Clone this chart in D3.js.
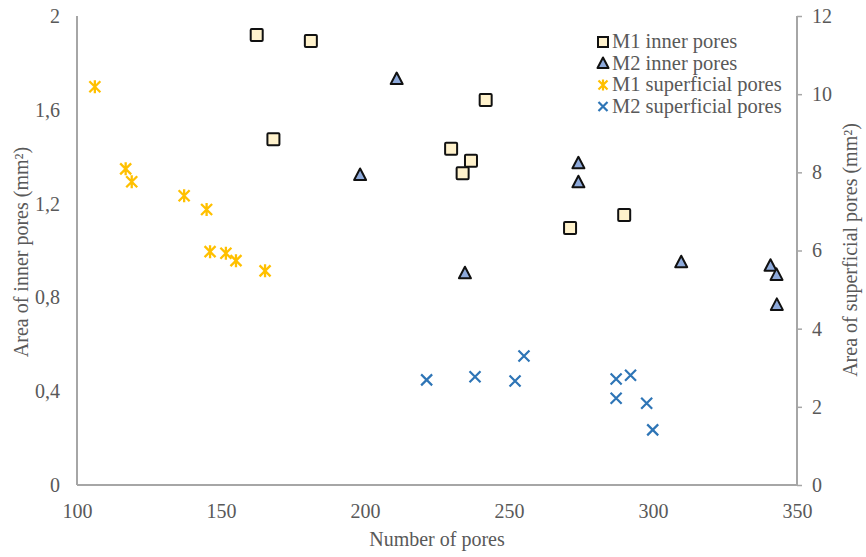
<!DOCTYPE html>
<html><head><meta charset="utf-8">
<script src="https://cdn.jsdelivr.net/npm/d3@7"></script>
<style>body{margin:0;background:#fff}svg{display:block}text{font-family:"Liberation Serif","Times New Roman",serif;fill:#595959}</style>
</head><body><svg id="c" width="866" height="557"></svg>
<script>
const m1InnerX = [162.4, 181.2, 168.2, 241.9, 229.9, 236.8, 233.9, 271.2, 290.0];
const m1InnerY = [1.919, 1.893, 1.474, 1.642, 1.434, 1.383, 1.329, 1.096, 1.151];
const m2InnerX = [211.0, 198.3, 274.1, 274.1, 234.7, 309.8, 340.8, 342.9, 343.0];
const m2InnerY = [1.731, 1.322, 1.372, 1.291, 0.903, 0.950, 0.935, 0.896, 0.768];
const m1SupX = [106.2, 116.9, 119.0, 137.2, 145.0, 146.2, 151.7, 155.2, 165.3];
const m1SupY = [10.19, 8.09, 7.76, 7.40, 7.05, 5.97, 5.93, 5.74, 5.48];
const m2SupX = [221.4, 238.2, 252.1, 255.2, 287.2, 292.2, 287.2, 297.8, 299.9];
const m2SupY = [2.69, 2.77, 2.66, 3.30, 2.71, 2.81, 2.22, 2.09, 1.41];
const xTicks = [100, 150, 200, 250, 300, 350];
const yLeftTicks = [0, 0.4, 0.8, 1.2, 1.6, 2];
const yRightTicks = [0, 2, 4, 6, 8, 10, 12];
const seriesNames = ["M1 inner pores", "M2 inner pores", "M1 superficial pores", "M2 superficial pores"];

const FONT = '"Liberation Serif","Times New Roman",serif';
const svg = d3.select("#c");
const L = 77, R = 797, T = 16, B = 485;
const x = d3.scaleLinear().domain([100, 350]).range([L, R]);
const yL = d3.scaleLinear().domain([0, 2]).range([B, T]);
const yR = d3.scaleLinear().domain([0, 12]).range([B, T]);
const axisCol = "#a6a6a6";
const fmtL = d => d === 0 || d === 2 ? String(d) : d3.format(".1f")(d).replace(".", ",");

// axes
const gx = svg.append("g").attr("transform", `translate(0,${B})`)
  .call(d3.axisBottom(x).tickValues(xTicks).tickSize(0).tickPadding(19));
const gl = svg.append("g").attr("transform", `translate(${L},0)`)
  .call(d3.axisLeft(yL).tickValues(yLeftTicks).tickFormat(fmtL).tickSize(0).tickPadding(17));
const gr = svg.append("g").attr("transform", `translate(${R},0)`)
  .call(d3.axisRight(yR).tickValues(yRightTicks).tickSize(5).tickPadding(10));
[gx, gl, gr].forEach(g => {
  g.attr("font-family", FONT).attr("font-size", 20);
  g.select(".domain").attr("stroke", axisCol).attr("stroke-width", 2);
  g.selectAll(".tick line").attr("stroke", axisCol).attr("stroke-width", 1.5);
  g.selectAll("text").style("font-size", "20px").style("font-family", FONT).attr("fill", "#595959");
});
gr.select(".domain").attr("d", `M0,${B}V${T}`);
gl.select(".domain").attr("d", `M0,${B}V${T}`);
gx.select(".domain").attr("d", `M${L},0H${R}`);

// titles
svg.append("text").attr("x", 437).attr("y", 546).attr("text-anchor", "middle")
  .style("font-size", "20px").text("Number of pores");
svg.append("text").attr("transform", "translate(28,252) rotate(-90)").attr("text-anchor", "middle")
  .style("font-size", "20px").text("Area of inner pores (mm²)");
svg.append("text").attr("transform", "translate(857,250) rotate(-90)").attr("text-anchor", "middle")
  .style("font-size", "20px").text("Area of superficial pores (mm²)");

// marker drawers
function square(g, cx, cy) {
  g.append("rect").attr("x", cx - 6).attr("y", cy - 6).attr("width", 12).attr("height", 12)
    .attr("fill", "#fff2cc").attr("stroke", "#111").attr("stroke-width", 2).attr("rx", 1);
}
function tri(g, cx, cy) {
  g.append("path").attr("d", `M${cx},${cy - 6.5}L${cx + 6},${cy + 5}L${cx - 6},${cy + 5}Z`)
    .attr("fill", "#8eaadb").attr("stroke", "#111").attr("stroke-width", 2).attr("stroke-linejoin", "round");
}
function star(g, cx, cy) {
  const s = 5.5;
  g.append("path").attr("d", `M${cx - s},${cy - s}L${cx + s},${cy + s}M${cx + s},${cy - s}L${cx - s},${cy + s}M${cx},${cy - s - 1}V${cy + s + 1}`)
    .attr("stroke", "#ffc000").attr("stroke-width", 2.3).attr("fill", "none");
}
function cross(g, cx, cy) {
  const s = 5.5;
  g.append("path").attr("d", `M${cx - s},${cy - s}L${cx + s},${cy + s}M${cx + s},${cy - s}L${cx - s},${cy + s}`)
    .attr("stroke", "#2e75b6").attr("stroke-width", 2.2).attr("fill", "none");
}

const plot = svg.append("g");
m2SupX.forEach((v, i) => cross(plot, x(v), yR(m2SupY[i])));
m1SupX.forEach((v, i) => star(plot, x(v), yR(m1SupY[i])));
m1InnerX.forEach((v, i) => square(plot, x(v), yL(m1InnerY[i])));
m2InnerX.forEach((v, i) => tri(plot, x(v), yL(m2InnerY[i])));

// legend
const lg = svg.append("g");
const drawers = [square, tri, star, cross];
const lx = 603;
seriesNames.forEach((n, i) => {
  const cy = 42 + i * 21.5;
  const g = lg.append("g");
  if (i === 0) g.append("rect").attr("x", lx - 5).attr("y", cy - 5).attr("width", 10).attr("height", 10)
      .attr("fill", "#fff2cc").attr("stroke", "#111").attr("stroke-width", 2);
  else if (i === 1) g.append("path").attr("d", `M${lx},${cy - 6}L${lx + 5.5},${cy + 4.5}L${lx - 5.5},${cy + 4.5}Z`)
      .attr("fill", "#8eaadb").attr("stroke", "#111").attr("stroke-width", 2).attr("stroke-linejoin", "round");
  else {
    const s = 4.5;
    const d = i === 2
      ? `M${lx - s},${cy - s}L${lx + s},${cy + s}M${lx + s},${cy - s}L${lx - s},${cy + s}M${lx},${cy - s - 1}V${cy + s + 1}`
      : `M${lx - s},${cy - s}L${lx + s},${cy + s}M${lx + s},${cy - s}L${lx - s},${cy + s}`;
    g.append("path").attr("d", d).attr("stroke", i === 2 ? "#ffc000" : "#2e75b6").attr("stroke-width", 2.2).attr("fill", "none");
  }
  g.append("text").attr("x", lx + 9).attr("y", cy + 6).style("font-size", "20.5px").text(n);
});
</script></body></html>
